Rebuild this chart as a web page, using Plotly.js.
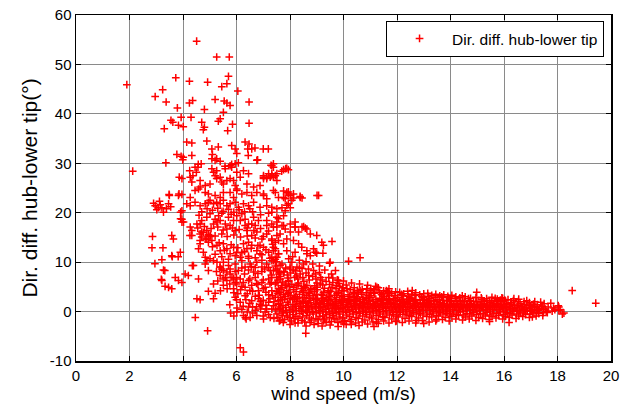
<!DOCTYPE html>
<html>
<head>
<meta charset="utf-8">
<script src="https://cdn.plot.ly/plotly-3.0.1.min.js"></script>
<style>html,body{margin:0;padding:0;background:#fff;}#chart{width:621px;height:410px;}</style>
</head>
<body>
<div id="chart"></div>
<script>
// Each entry: [wind speed (m/s), direction difference hub-lower tip (deg)]
const highPts = [
[4.51,54.7],[5.26,51.5],[5.73,51.5],[1.90,45.9],[3.73,47.3],[4.24,46.6],[4.92,46.4],[5.70,47.6],[5.64,46.1],[5.45,45.5],
[3.24,44.9],[6.05,44.6],[2.96,43.5],[3.37,42.4],[3.79,41.2],[4.24,42.2],[4.36,42.7],[5.20,42.9],[5.54,42.6],[5.64,42.2],
[5.76,41.7],[6.47,42.4],[4.80,40.9],[5.51,40.3],[3.93,39.3],[4.30,39.3],[3.55,38.7],[3.30,37.0],[3.83,37.7],[4.01,37.4],
[4.70,38.3],[4.80,37.3],[4.76,36.8],[5.39,39.0],[5.32,38.5],[5.85,37.9],[5.67,36.6],[6.47,38.1],[4.14,34.3],[4.33,34.1],
[4.89,34.5],[5.08,32.9],[5.32,33.3],[5.82,33.6],[5.95,32.9],[6.01,32.0],[6.32,34.3],[6.47,33.9],[6.57,32.9],[6.42,32.9],
[6.69,33.1],[6.44,31.6],[7.00,32.9],[7.19,32.9],[6.79,30.7],[3.77,31.8],[3.93,31.4],[4.01,31.2],[4.33,31.6],[5.10,31.8],
[5.08,30.9],[5.20,30.6],[5.39,30.4],[3.36,30.1],[4.57,29.8],[4.45,29.2],[5.57,29.4],[5.82,29.8],[6.07,30.1],[7.29,29.6],
[7.84,28.9],[7.69,28.4],[2.12,28.4],[3.86,27.2],[4.25,28.5],[4.37,27.5],[4.56,29.2],[4.68,29.9],[4.50,28.2],[3.62,38.3],
[3.99,30.7],[5.26,30.9],[5.76,29.5],[5.95,29.9],[6.76,30.6],[7.32,29.5],[7.38,29.9],
[5.08,28.9],[5.26,28.5],[5.58,28.9],[5.82,29.2],[6.01,28.2],[6.26,28.5],[6.45,27.9],[7.01,27.5],[7.13,27.2],[7.32,27.9],[7.51,27.9],
[3.96,26.9],[4.27,27.2],[4.33,26.2],[4.64,26.5],[4.83,25.5],[5.01,25.8],[5.14,28.2],[5.20,27.5],[5.26,26.9],[5.39,27.2],
[5.45,26.2],[5.51,25.8],[5.64,26.5],[5.76,26.9],[5.89,26.5],[5.95,25.5],[6.01,24.8],[6.14,27.2],[6.39,25.8],[6.64,25.2],
[6.88,25.5],[7.01,26.9],[7.13,26.9],[7.51,26.5],
[7.38,29.2],[7.32,27.5],[7.38,27.2],[7.76,28.7],[7.88,29.0],[7.94,28.7],[7.20,27.9],[7.26,27.2],[7.45,27.5],[7.01,27.2]
];
const midPts = [
[3.49,23.5],[3.83,23.5],[3.96,23.7],[4.27,23.1],[4.45,24.5],[4.58,24.8],[4.64,25.2],[4.83,24.1],[4.95,23.8],[5.20,23.5],
[5.39,23.1],[5.51,24.1],[5.76,24.1],[5.89,23.1],[6.01,24.5],[6.20,23.8],[6.39,24.1],[6.57,23.5],[6.76,24.1],[7.01,23.5],
[7.13,22.8],[7.38,24.5],[7.57,23.1],
[2.90,21.9],[2.96,21.4],[3.08,21.0],[3.21,21.0],[3.27,20.1],[3.46,21.8],[3.54,21.2],[3.96,20.4],[4.14,21.8],[4.27,21.4],
[4.45,22.1],[4.64,21.4],[4.83,21.8],[4.95,22.1],[5.01,22.5],[5.14,21.8],[5.26,22.1],[5.39,21.8],[5.51,22.5],[5.64,21.4],
[5.76,21.8],[5.95,22.1],[6.07,21.1],[6.26,21.8],[6.45,21.4],[6.64,22.1],[6.88,21.1],[7.13,21.4],[7.32,20.1],[7.51,20.8],
[3.96,18.7],[4.02,18.1],[4.27,17.1],[4.52,17.7],[4.70,18.4],[4.89,19.1],[5.01,19.8],[5.20,18.7],[5.33,19.4],[5.39,18.4],
[5.58,17.7],[5.70,19.1],[5.89,18.4],[6.01,19.4],[6.14,18.4],[6.32,18.7],[6.45,17.7],[6.64,19.1],[6.82,18.4],[7.13,18.4],
[7.38,17.1],[7.51,19.1],
[7.45,24.1],[7.76,24.4],[7.88,24.1],[7.94,23.8],[7.76,23.1],[7.82,22.8],[8.01,23.5],[8.07,22.5],[8.13,23.0],
[8.38,23.1],[8.45,23.0],[9.01,23.5],[7.88,21.5],[7.94,21.8],[8.01,21.0],[7.82,20.4],[7.76,19.4],[7.70,21.0],
[7.32,21.1],[7.57,18.8],[7.51,18.1],[7.76,17.4],[8.19,18.1],[8.19,17.1],[8.45,17.1],[8.57,16.9],
[7.94,24.2],[8.13,23.8],[8.38,23.3],[9.07,23.5],[7.01,23.8],
[3.96,18.1],[4.33,15.4],[4.64,17.7],[4.70,16.1],[4.89,16.4],[5.02,15.4],[5.14,17.7],[5.27,18.1],[5.64,16.7],
[5.76,17.4],[5.95,16.4],[6.32,17.4],[6.57,17.7],[6.70,17.4],[7.13,17.4],
[3.91,20.1],[3.91,18.8],[3.85,23.8],[3.48,23.7],
[3.02,20.6],[3.15,21.6],[3.38,20.8],[3.12,22.3]
];
const cloudPts = [
[4.7,20.2],[4.9,20.8],[5.1,20.5],[5.3,20.9],[5.5,20.3],[5.7,20.7],[5.9,20.1],[6.1,20.6],[6.3,20.2],[6.5,20.8],
[4.6,19.5],[5.45,19.9],[5.8,19.7],[6.2,19.8],[6.6,20.2],[6.9,19.6],[7.2,19.9],
[4.55,16.9],[4.8,17.2],[5.05,16.8],[5.3,17.1],[5.5,16.5],[5.85,16.9],[6.1,16.6],[6.4,16.9],[6.65,16.4],[6.9,16.8],[7.2,16.3],
[4.7,15.1],[4.95,15.6],[5.2,15.3],[5.45,15.7],[5.65,15.2],[5.9,15.5],[6.15,15.1],[6.4,15.3],[6.7,14.9],[7.0,15.2],
[5.1,13.1],[5.35,13.9],[5.55,12.4],[5.8,13.5],[6.05,12.9],[6.3,12.2],[6.55,12.8],[6.8,13.3],[7.1,12.5],[7.35,13.6],
[5.2,11.6],[5.45,11.1],[5.7,10.6],[5.95,11.3],[6.2,11.9],[6.45,11.2],[6.7,10.9],[6.95,10.4],[7.25,10.8],[7.5,10.1],
[5.25,8.1],[5.45,8.6],[5.7,9.3],[5.95,8.1],[6.2,8.8],[6.45,8.4],[6.7,8.9],[6.95,8.1],[7.2,8.9],[7.45,9.2],[7.6,7.9],
[5.3,6.2],[5.5,6.6],[5.75,5.6],[6.0,6.9],[6.25,5.9],[6.5,6.6],[6.75,5.7],[7.0,6.4],[7.25,5.6],[7.5,6.9],
[5.4,4.2],[5.65,4.6],[5.9,3.8],[6.15,4.4],[6.4,3.6],[6.6,4.1],[6.85,3.3],[7.1,3.9],[7.35,3.2],[7.55,3.7],
[5.75,1.4],[6.0,2.4],[6.25,1.1],[6.5,1.7],[6.75,1.0],[7.0,2.3],[7.25,2.6],[7.45,0.3],[7.65,2.4],
[5.9,-0.9],[6.2,0.4],[6.6,-0.3],[6.9,0.5],[7.2,-0.6],[7.4,-1.4],[6.4,-0.1],[7.0,-0.9],
[6.05,3.6],[6.2,5.1],[6.35,2.4],[6.5,4.3],[6.6,0.9],[6.7,3.1],[6.8,5.5],[6.9,2.1],[7.0,4.6],[7.1,1.3],
[7.2,3.4],[7.3,5.9],[7.4,2.0],[7.5,4.1],[7.6,0.6],[6.3,7.6],[6.55,9.1],[6.8,7.7],[7.05,8.6],[7.3,7.4],
[7.55,8.2],[6.45,10.8],[6.95,11.5],[7.45,10.6],[8.1,11.1],[8.35,10.4],[8.6,10.1],[8.85,9.6],[9.1,9.2],[9.3,8.4],
[9.55,7.6],[9.7,8.3],[8.2,8.2],[8.45,8.7],[8.7,7.3],[8.95,7.6],[9.2,6.4],[9.45,6.9],[9.6,5.9],[10.0,6.2],
[10.3,5.8],[10.6,5.6],[10.9,5.3],[11.3,4.8]
];
const lowPts = [
[2.86,15.2],[2.84,12.9],[3.25,12.9],[2.95,9.7],[3.21,10.5],[3.27,8.4],[3.58,15.4],[3.64,14.7],[3.58,11.3],[3.90,12.0],
[3.21,6.3],[3.33,5.1],[3.46,4.9],[3.58,4.6],[3.71,6.9],[3.83,6.3],[3.96,5.9],[4.08,7.6],[4.20,7.3],[4.39,9.3],
[4.58,6.6],[4.95,4.1],[5.20,3.7],[5.14,2.6],[4.52,2.6],[4.64,2.4],[4.46,-1.2],[4.92,-3.9],[6.14,-7.3],[6.26,-8.2],
[6.02,0.7],[6.33,-1.2],[6.36,-1.5],[4.26,15.4],[4.33,16.4],[4.64,15.7],[4.76,16.0],[4.83,14.7],[5.01,15.2],[4.64,13.7],
[4.95,14.0],[4.58,12.7],[4.76,12.0],[4.83,11.0],[4.89,10.3],[5.01,10.7],[5.27,10.0],[5.38,9.0],[5.51,8.3],[5.64,8.0],
[5.76,7.6],[5.58,6.9],[5.89,6.6],[5.95,5.9],[3.82,11.1],[3.60,11.1],[4.35,9.3],[3.19,6.5],[3.32,8.3],[8.59,-4.4],
[4.64,14.4],[4.89,14.7],[5.08,14.4],
[5.27,13.4],[5.39,12.3],[5.51,13.7],[5.64,12.7],[5.76,11.7],[5.89,13.0],[6.01,12.0],[6.14,11.0],[6.26,13.7],[6.39,12.7],
[6.57,13.4],[6.76,12.3],[6.88,11.7],[7.01,13.0],[7.20,12.0],[7.32,11.0],[7.45,12.7],[7.57,11.7],
[4.83,9.6],[4.95,8.3],[5.14,10.3],[5.39,9.0],[5.51,10.0],[5.76,8.6],[5.95,9.6],[6.07,8.3],[6.20,10.3],[6.32,9.0],
[6.51,9.6],[6.64,8.0],[6.76,10.0],[6.95,9.0],[7.13,9.6],[7.26,8.3],[7.38,10.3],[7.51,8.6],[7.63,9.3],
[5.39,7.3],[5.64,6.3],[5.83,6.9],[6.01,5.6],[6.14,6.6],[6.32,4.9],[6.45,6.3],[6.57,5.3],[6.70,6.9],[6.82,4.2],
[6.95,5.9],[7.07,4.9],[7.20,6.6],[7.32,4.2],[7.45,5.6],[7.57,4.6],[5.89,4.6],[5.51,5.3],[5.14,5.6],
[5.95,2.9],[6.14,1.9],[6.32,3.2],[6.45,0.9],[6.57,2.2],[6.70,0.2],[6.82,2.6],[6.95,1.2],[7.07,-0.1],[7.20,1.9],
[7.32,0.5],[7.45,2.9],[7.57,1.5],[6.01,-0.1],[6.26,-0.8],[6.51,-1.2],[6.76,-0.8],[7.01,-1.5],[7.26,-1.2],[7.51,-0.5],
[7.63,-1.8],[6.88,1.5],[7.13,0.5],[7.38,1.2],
[6.39,16.4],[6.57,15.4],[6.76,16.1],[6.95,14.7],[7.13,15.7],[7.32,14.4],[7.51,15.4],[6.45,14.0],[6.88,13.4],[7.38,13.0],
[5.78,-0.3]
];
const transPts = [
[7.32,17.7],[7.51,17.1],[7.70,17.4],[7.82,16.7],[8.01,17.7],[8.19,17.1],[8.51,17.2],[8.63,16.7],[8.76,15.7],[7.63,15.7],
[8.01,16.1],[8.32,16.1],[7.32,14.7],[7.45,14.0],[7.57,14.4],[7.76,13.7],[7.88,14.7],[8.13,14.4],[8.32,13.7],[8.44,13.0],
[8.63,12.3],[9.00,15.4],[9.19,14.0],[9.25,13.4],[9.57,14.2],[8.88,12.7],[9.00,11.8],[8.76,11.3],[8.19,12.0],[7.88,12.3],
[7.57,11.7],[7.38,12.3],[7.32,10.3],[7.51,11.0],[7.70,9.6],[7.95,10.7],[8.07,10.0],[8.26,9.0],[8.51,9.6],[8.69,8.6],
[8.88,8.3],[9.50,10.0],[10.19,10.2],[10.62,10.9],[7.38,8.3],[7.76,8.0],[8.01,8.6],[8.38,7.6],
[7.32,6.9],[7.51,5.9],[7.63,6.6],[7.82,5.3],[7.95,6.3],[8.13,4.9],[8.32,5.6],[8.51,4.2],[8.63,5.3],[8.82,4.6],
[9.00,4.9],[9.13,5.6],[9.25,3.9],[9.44,4.2],[9.57,4.9],[9.81,6.3],[9.75,5.3],[9.94,4.2],[10.13,4.6],[10.37,3.9],
[10.62,4.2],[10.87,4.6],[11.12,3.9],[11.25,4.9],[11.5,4.2],
[8.63,11.7],[8.94,12.0],[9.23,11.8],[9.48,9.8],[9.77,6.4],[9.83,5.7],[9.15,6.9],[11.2,5.1],[11.6,4.25],[11.7,4.6]
];
const bandPts = [
[7.55,-1.2],[7.62,0.4],[7.58,1.6],[7.65,2.8],[7.6,3.9],[7.68,5.2],[7.55,6.4],[7.63,0.9],[7.7,-0.3],[7.57,2.2],[7.66,4.5],[7.59,7.6],
[7.8,-1.6],[7.87,-0.2],[7.83,0.8],[7.9,1.9],[7.82,3.1],[7.88,4.2],[7.85,5.6],[7.92,6.8],[7.8,2.5],[7.86,0.2],[7.93,3.6],[7.84,8.8],
[8.05,-1.9],[8.12,-0.6],[8.08,0.5],[8.15,1.4],[8.1,2.4],[8.03,3.3],[8.14,4.4],[8.07,5.5],[8.18,6.9],[8.1,0.9],[8.16,2.9],[8.02,7.8],[8.11,-0.1],
[8.3,-1.4],[8.37,-0.4],[8.33,0.6],[8.4,1.6],[8.28,2.6],[8.36,3.5],[8.42,4.6],[8.31,5.8],[8.38,1.1],[8.34,2.1],[8.44,0.1],[8.29,6.6],
[8.55,-2.1],[8.62,-0.8],[8.58,0.3],[8.65,1.2],[8.6,2.0],[8.53,2.9],[8.68,3.8],[8.57,4.9],[8.63,0.8],[8.59,1.7],[8.66,-0.2],[8.52,6.1],[8.61,3.3],
[8.8,-1.7],[8.87,-0.5],[8.83,0.5],[8.9,1.4],[8.78,2.3],[8.86,3.2],[8.92,4.1],[8.81,1.0],[8.88,2.7],[8.84,0.0],[8.93,5.2],
[9.05,-2.4],[9.12,-1.0],[9.08,0.2],[9.15,1.0],[9.1,1.9],[9.03,2.7],[9.17,3.5],[9.07,0.7],[9.13,1.5],[9.11,-0.3],[9.18,2.3],[9.02,4.4],
[9.3,-1.5],[9.37,-0.6],[9.33,0.4],[9.4,1.2],[9.28,2.1],[9.36,2.9],[9.42,3.8],[9.31,0.9],[9.38,1.6],[9.34,-0.1],[9.43,2.5],[9.29,4.7],
[9.55,-2.0],[9.62,-0.8],[9.58,0.1],[9.65,0.9],[9.6,1.7],[9.53,2.5],[9.67,3.3],[9.57,0.6],[9.63,1.3],[9.59,-0.4],[9.68,2.1],[9.52,4.1],
[9.79,-2.2],[9.87,-1.1],[9.83,0.0],[9.9,0.8],[9.8,1.6],[9.86,2.4],[9.92,3.2],[9.81,0.5],[9.88,1.2],[9.84,-0.5],[9.93,2.0],[9.82,3.9],
[10.05,-1.8],[10.12,-0.7],[10.08,0.3],[10.15,1.1],[10.1,1.9],[10.03,2.6],[10.17,3.4],[10.07,0.8],[10.13,1.5],[10.11,-0.2],[10.18,2.3],[10.02,4.2],
[10.3,-1.6],[10.37,-0.5],[10.33,0.4],[10.4,1.3],[10.28,2.0],[10.36,2.8],[10.42,3.6],[10.31,0.9],[10.38,1.7],[10.34,0.0],[10.43,2.4],[10.29,-2.6],
[10.55,-1.4],[10.62,-0.4],[10.58,0.5],[10.65,1.2],[10.6,2.0],[10.53,2.7],[10.67,3.5],[10.57,0.9],[10.63,1.6],[10.59,-0.1],[10.58,-2.8],[10.52,4.3],
[10.8,-1.7],[10.87,-0.6],[10.83,0.3],[10.9,1.1],[10.78,1.9],[10.86,2.6],[10.92,3.3],[10.81,0.7],[10.88,1.5],[10.84,-0.2],[10.93,2.2],
[11.05,-1.3],[11.12,-0.3],[11.08,0.5],[11.15,1.3],[11.1,2.1],[11.03,2.9],[11.17,3.7],[11.07,0.9],[11.13,1.7],[11.11,0.1],[11.14,-3.0],[11.02,4.6],
[11.3,-1.6],[11.37,-0.5],[11.33,0.4],[11.4,1.2],[11.28,2.0],[11.36,2.7],[11.42,3.4],[11.31,0.8],[11.38,1.5],[11.34,-0.1],[11.43,2.3],
[11.55,-1.2],[11.62,-0.3],[11.58,0.6],[11.65,1.4],[11.6,2.2],[11.53,3.0],[11.67,3.9],[11.57,1.0],[11.63,1.8],[11.59,0.2],[11.68,2.6],
[11.8,-1.5],[11.87,-0.6],[11.83,0.3],[11.9,1.1],[11.78,1.9],[11.86,2.6],[11.92,3.2],[11.81,0.7],[11.88,1.4],[11.84,-0.2],[11.93,2.2],
[12.05,-1.1],[12.12,-0.2],[12.08,0.5],[12.15,1.3],[12.1,2.0],[12.03,2.8],[12.17,3.5],[12.07,0.9],[12.13,1.6],[12.11,0.1],[12.18,2.4],
[12.3,-1.4],[12.37,-0.5],[12.33,0.4],[12.4,1.1],[12.28,1.8],[12.36,2.5],[12.42,3.1],[12.31,0.8],[12.38,1.4],[12.34,-0.1],[12.43,2.1],
[12.55,-1.0],[12.62,-0.2],[12.58,0.6],[12.65,1.3],[12.6,2.0],[12.53,2.7],[12.67,3.3],[12.57,1.0],[12.63,1.6],[12.59,0.2],[12.57,4.25],[12.68,2.3],
[12.8,-1.3],[12.87,-0.4],[12.83,0.4],[12.9,1.1],[12.78,1.8],[12.86,2.4],[12.92,3.0],[12.81,0.8],[12.88,1.4],[12.84,-0.1],
[13.0,-2.4],[13.12,-0.3],[13.08,0.5],[13.15,1.2],[13.1,1.9],[13.03,2.5],[13.17,3.1],[13.07,0.9],[13.13,1.5],[13.11,-1.0],[13.18,2.2],
[13.3,-1.1],[13.37,-0.3],[13.33,0.4],[13.4,1.1],[13.28,1.7],[13.36,2.3],[13.42,2.9],[13.31,0.8],[13.38,1.4],[13.34,0.0],
[13.55,-0.9],[13.62,-0.2],[13.58,0.5],[13.65,1.2],[13.6,1.8],[13.53,2.4],[13.67,3.0],[13.57,0.9],[13.63,1.5],[13.59,0.1],
[13.8,-1.2],[13.87,-0.4],[13.83,0.3],[13.9,1.0],[13.78,1.6],[13.86,2.2],[13.92,2.8],[13.81,0.7],[13.88,1.3],[13.84,-0.1],
[14.05,-1.0],[14.12,-0.3],[14.08,0.4],[14.15,1.0],[14.1,1.6],[14.03,2.2],[14.17,2.7],[14.07,0.8],[14.13,1.3],
[14.3,-0.8],[14.37,-0.1],[14.33,0.5],[14.4,1.1],[14.28,1.7],[14.36,2.3],[14.44,3.2],[14.31,0.9],[14.38,1.4],
[14.55,-1.1],[14.62,-0.4],[14.58,0.3],[14.65,0.9],[14.6,1.5],[14.53,2.1],[14.67,2.6],[14.57,0.7],[14.63,1.2],
[14.8,-0.9],[14.87,-0.2],[14.83,0.4],[14.9,1.0],[14.78,1.6],[14.86,2.1],[14.98,3.9],[14.81,0.8],[14.88,1.3],
[15.05,-1.2],[15.12,-0.4],[15.08,0.3],[15.15,0.9],[15.1,1.5],[15.03,2.0],[15.17,2.5],[15.07,0.7],[15.13,1.2],
[15.3,-0.9],[15.37,-0.2],[15.33,0.4],[15.4,1.0],[15.28,1.6],[15.36,2.2],[15.46,-2.0],[15.31,0.8],[15.38,1.3],
[15.55,-1.0],[15.62,-0.3],[15.58,0.4],[15.65,1.0],[15.6,1.6],[15.53,2.2],[15.67,2.7],[15.57,0.8],[15.63,1.3],
[15.8,-0.8],[15.87,-0.1],[15.83,0.5],[15.9,1.1],[15.78,1.7],[15.86,2.3],[15.92,2.8],[15.81,0.9],[15.88,1.4],
[16.05,-1.0],[16.12,-0.2],[16.08,0.5],[16.15,1.1],[16.1,1.7],[16.19,-2.2],[16.03,2.3],[16.07,0.8],
[16.3,-0.7],[16.37,0.0],[16.33,0.6],[16.4,1.2],[16.37,2.6],[16.28,1.8],[16.31,0.3],
[16.55,-0.9],[16.62,-0.1],[16.58,0.5],[16.65,1.0],[16.6,1.6],[16.53,2.0],[16.57,0.2],
[16.8,-0.6],[16.87,0.1],[16.83,0.7],[16.85,2.2],[16.9,1.3],[16.78,0.4],
[17.06,-1.1],[17.12,-0.2],[17.08,0.4],[17.15,1.0],[17.1,1.5],[17.03,0.1],
[17.3,-0.4],[17.37,1.9],[17.33,0.6],[17.4,1.1],[17.28,0.2],
[17.62,-0.2],[17.55,0.5],[17.75,1.7],[17.65,0.9],[17.58,0.0],
[18.03,1.2],[18.05,0.2],[18.24,-0.3],[18.18,-0.5],[18.05,0.9],[17.9,0.4],
[18.55,4.25],[19.43,1.7]
];
const bandFill = [
[7.72,-0.8],[7.74,1.2],[7.71,2.4],[7.76,3.5],[7.7,4.8],[7.73,6.0],[7.75,0.1],
[7.97,-1.2],[7.99,0.3],[7.95,1.5],[8.0,2.7],[7.96,3.9],[7.98,5.0],[7.94,6.1],
[8.22,-1.0],[8.24,0.2],[8.2,1.1],[8.25,2.0],[8.21,3.0],[8.23,4.0],[8.26,5.2],[8.19,-2.3],
[8.47,-1.1],[8.49,0.0],[8.45,0.9],[8.5,1.9],[8.46,2.8],[8.48,3.9],[8.51,5.1],
[8.72,-1.3],[8.74,-0.1],[8.7,0.9],[8.75,1.8],[8.71,2.7],[8.73,3.6],[8.76,4.5],
[8.97,-1.4],[8.99,-0.2],[8.95,0.7],[9.0,1.6],[8.96,2.5],[8.98,3.4],[9.01,5.8],
[9.22,-0.9],[9.24,0.0],[9.2,0.8],[9.25,1.7],[9.21,2.6],[9.23,3.3],[9.26,-1.9],
[9.47,-1.2],[9.49,-0.3],[9.45,0.6],[9.5,1.5],[9.46,2.3],[9.48,3.0],[9.51,4.0],
[9.72,-1.5],[9.74,-0.2],[9.7,0.5],[9.75,1.2],[9.71,2.0],[9.73,2.8],[9.76,3.6],
[9.97,-1.3],[9.99,-0.1],[9.95,0.6],[10.0,1.4],[9.96,2.2],[9.98,3.0],[10.01,-2.5],
[10.22,-1.0],[10.24,0.1],[10.2,0.9],[10.25,1.6],[10.21,2.4],[10.23,3.1],
[10.47,-1.2],[10.49,-0.2],[10.45,0.7],[10.5,1.5],[10.46,2.2],[10.48,3.0],
[10.72,-0.9],[10.74,0.1],[10.7,0.8],[10.75,1.6],[10.71,2.4],[10.73,2.9],
[10.97,-1.1],[10.99,-0.1],[10.95,0.7],[11.0,1.4],[10.96,2.3],[10.98,3.2],
[11.22,-0.8],[11.24,0.2],[11.2,1.0],[11.25,1.7],[11.21,2.5],[11.23,-2.1],
[11.47,-1.0],[11.49,0.0],[11.45,0.8],[11.5,1.6],[11.46,2.4],[11.48,3.1],
[11.72,-0.7],[11.74,0.2],[11.7,1.0],[11.75,1.7],[11.71,2.5],[11.73,3.3],
[11.97,-0.9],[11.99,0.0],[11.95,0.8],[12.0,1.5],[11.96,2.3],[11.98,-1.9],
[12.22,-0.6],[12.24,0.3],[12.2,1.0],[12.25,1.7],[12.21,2.5],[12.23,3.2],
[12.47,-0.8],[12.49,0.1],[12.45,0.8],[12.5,1.6],[12.46,2.3],[12.48,2.9],
[12.72,-0.5],[12.74,0.3],[12.7,1.0],[12.75,1.7],[12.71,2.4],[12.73,-1.8],
[12.97,-0.7],[12.99,0.2],[12.95,0.9],[13.0,1.6],[12.96,2.3],[12.98,2.9],
[13.22,-0.6],[13.24,0.2],[13.2,0.9],[13.25,1.5],[13.21,2.2],[13.23,2.7],
[13.47,-0.8],[13.49,0.1],[13.45,0.8],[13.5,1.5],[13.46,2.1],[13.48,-1.6],
[13.72,-0.5],[13.74,0.3],[13.7,1.0],[13.75,1.6],[13.71,2.3],[13.73,2.9],
[13.97,-0.7],[13.99,0.1],[13.95,0.8],[14.0,1.4],[13.96,2.0],[13.98,2.6],
[14.22,-0.6],[14.24,0.2],[14.2,0.9],[14.25,1.5],[14.21,2.1],
[14.47,-0.7],[14.49,0.1],[14.45,0.8],[14.5,1.4],[14.46,2.0],
[14.72,-0.5],[14.74,0.2],[14.7,0.9],[14.75,1.5],[14.71,2.2],
[14.97,-0.6],[14.99,0.1],[14.95,0.8],[15.0,1.4],[14.96,2.0],
[15.22,-0.5],[15.24,0.2],[15.2,0.9],[15.25,1.5],[15.21,2.1],
[15.47,-0.7],[15.49,0.1],[15.45,0.7],[15.5,1.3],[15.46,1.9],
[15.72,-0.4],[15.74,0.3],[15.7,0.9],[15.75,1.5],[15.71,2.1],
[15.97,-0.6],[15.99,0.1],[15.95,0.8],[16.0,1.4],[15.96,2.0],
[16.22,-0.4],[16.24,0.3],[16.2,0.9],[16.25,1.5],
[16.47,-0.5],[16.49,0.2],[16.45,0.8],[16.5,1.3],
[16.72,-0.3],[16.74,0.3],[16.7,0.9],[16.75,1.5],
[16.97,-0.5],[16.99,0.1],[16.95,0.7],[17.0,1.2],
[17.22,-0.3],[17.24,0.3],[17.2,0.8],[17.25,1.4],
[17.47,-0.2],[17.49,0.4],[17.45,1.0],
[17.8,0.1],[17.85,0.7],[18.1,0.4]
];
const bandEdges = [
[7.6,-1.9],[7.75,-2.2],[7.9,-0.9],[8.0,-2.6],[8.15,-1.4],[8.3,-2.3],[8.45,-1.8],[8.6,-2.9],[8.75,-2.2],[8.9,-2.6],
[9.05,-1.6],[9.2,-2.9],[9.35,-2.2],[9.5,-2.7],[9.65,-1.4],[9.8,-3.0],[9.95,-2.0],[10.1,-2.6],[10.25,-2.0],[10.45,-2.3],
[10.7,-2.1],[10.9,-2.5],[11.1,-2.1],[11.3,-2.4],[11.5,-1.9],[11.7,-2.3],[11.95,-2.0],[12.2,-2.2],[12.45,-1.9],[12.7,-2.3],
[12.95,-1.8],[13.2,-2.1],[13.45,-1.9],[13.7,-1.6],[13.95,-1.9],[14.2,-1.5],[14.45,-1.7],[14.7,-1.5],[14.95,-1.8],[15.2,-1.4],
[15.45,-1.6],[15.7,-1.3],[15.95,-1.5],[16.2,-1.2],[16.45,-1.4],[16.7,-1.0],[16.95,-1.2],[17.2,-0.9],[17.45,-0.8],
[7.65,7.1],[7.78,8.1],[7.9,7.4],[8.0,9.0],[8.12,8.4],[8.25,7.2],[8.35,8.8],[8.48,6.9],[8.6,7.8],[8.72,6.4],
[8.85,7.1],[8.97,6.6],[9.1,7.9],[9.22,5.4],[9.35,6.1],[9.48,5.5],[9.6,6.8],[9.72,4.6],[9.85,5.1],[9.97,4.8],
[10.1,5.4],[10.25,4.4],[10.4,4.8],[10.55,3.9],[10.7,4.5],[10.85,3.8],[11.0,4.2],[11.15,4.4],[11.35,3.9],[11.5,3.6],
[11.65,4.1],[11.8,3.7],[11.95,4.0],[12.1,3.9],[12.25,3.6],[12.4,4.1],[12.55,3.5],[12.7,3.8],[12.85,3.4],[13.0,3.6],
[13.15,3.7],[13.3,3.3],[13.45,3.5],[13.6,3.2],[13.75,3.4],[13.9,3.1],[14.05,3.3],[14.2,3.0],[14.35,2.8],[14.55,3.0],
[14.75,2.7],[14.95,2.9],[15.15,2.8],[15.35,2.6],[15.55,2.9],[15.75,2.5],[15.95,2.7],[16.15,2.4],[16.35,2.2],[16.55,2.5],
[16.75,2.0],[16.95,1.8],[17.15,2.0],[17.5,1.6]
];

const allPts = highPts.concat(midPts, cloudPts, lowPts, transPts, bandPts, bandFill, bandEdges);
const windSpeed = allPts.map(p => p[0]);
const dirDiff = allPts.map(p => p[1]);

const xTicks = [0,2,4,6,8,10,12,14,16,18,20];
const yTicks = [-10,0,10,20,30,40,50,60];
const FONT = 'Liberation Sans, Arial, sans-serif';

const trace = {
  type: 'scatter',
  mode: 'markers',
  x: windSpeed,
  y: dirDiff,
  name: 'Dir. diff. hub-lower tip',
  marker: {symbol: 'cross-thin', size: 5.5, color: '#ff0000', line: {color: '#ff0000', width: 1.5}}
};

const axisCommon = {
  showline: true, linecolor: '#000', linewidth: 1.5, mirror: 'ticks',
  ticks: 'inside', ticklen: 5, tickcolor: '#000', tickwidth: 1,
  showgrid: true, gridcolor: '#8a8a8a', gridwidth: 1,
  zeroline: false,
  tickfont: {family: FONT, size: 15, color: '#000'}
};

const layout = {
  width: 621, height: 410,
  margin: {l: 76, r: 10, t: 15, b: 49},
  paper_bgcolor: '#fff', plot_bgcolor: '#fff',
  showlegend: true,
  font: {family: FONT, color: '#000'},
  xaxis: Object.assign({}, axisCommon, {
    range: [0, 20], tickvals: xTicks, ticktext: xTicks.map(String),
    title: {text: 'wind speed (m/s)', font: {family: FONT, size: 19, color: '#000'}, standoff: 0}
  }),
  yaxis: Object.assign({}, axisCommon, {
    range: [-10, 60], tickvals: yTicks, ticktext: yTicks.map(String),
    title: {text: 'Dir. diff. hub-lower tip(°)', font: {family: FONT, size: 21, color: '#000'}, standoff: 6}
  }),
  legend: {
    x: 0.987, y: 0.983, xanchor: 'right', yanchor: 'top',
    bgcolor: '#fff', bordercolor: '#000', borderwidth: 1,
    font: {family: FONT, size: 15.5, color: '#000'}, itemwidth: 55
  }
};

Plotly.newPlot('chart', [trace], layout, {displayModeBar: false, staticPlot: true});
</script>
</body>
</html>
